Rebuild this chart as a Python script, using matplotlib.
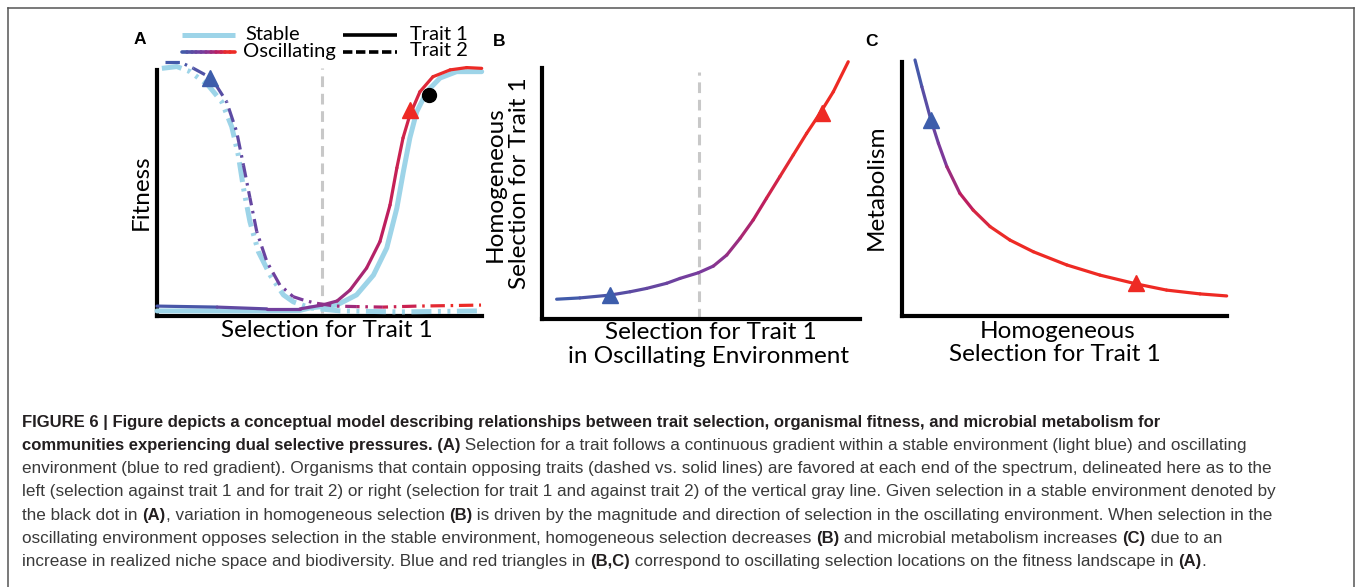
#!/usr/bin/env python3
# -*- coding: utf-8 -*-
"""
plot.py
Conceptual model figure: fitness landscape (A), homogeneous selection vs.
oscillating selection (B) and metabolism vs. homogeneous selection (C),
with the figure caption underneath. Saves out.png.
"""

import numpy as np
import matplotlib
matplotlib.use("Agg")
import matplotlib.pyplot as plt
from matplotlib.collections import LineCollection
from matplotlib.colors import LinearSegmentedColormap


# =====================================================
# 1. Data (axes scaled 0-100)
# =====================================================

# panel A - fitness vs. selection for trait 1
a_stable_t1_x = [0, 28.6, 44.0, 47.1, 55.3, 61.4, 66.6, 70.7, 73.8, 75.8, 77.8, 79.9, 83.0, 87.1, 92.2, 99.9]
a_stable_t1_y = [2.0, 2.0, 2.2, 3.2, 4.3, 8.3, 16.1, 26.8, 42.5, 56.8, 70.1, 80.4, 88.3, 93.7, 96.2, 96.2]

a_osc_t1_x = [0, 18.5, 33.8, 44.0, 50.8, 55.4, 59.4, 64.5, 68.6, 71.7, 73.8, 75.7, 77.8, 80.9, 84.9, 90.2, 95.3, 99.9]
a_osc_t1_y = [3.9, 3.5, 2.8, 2.8, 4.3, 5.9, 10.2, 18.9, 29.3, 43.7, 58.3, 70.1, 79.1, 88.3, 94.2, 96.9, 97.8, 97.5]

a_stable_t2_x = [1.5, 6.1, 10.2, 15.7, 19.9, 23.0, 25.0, 26.6, 28.6, 31.2, 34.8, 38.9, 41.9, 47.1, 56.3, 74.8, 99.7]
a_stable_t2_y = [97.5, 98.2, 96.2, 90.9, 84.4, 74.5, 63.4, 50.4, 37.1, 25.3, 16.1, 8.3, 5.6, 3.2, 2.0, 1.6, 2.0]

a_osc_t2_x = [2.5, 7.1, 11.2, 16.8, 21.4, 24.5, 26.6, 28.6, 30.7, 33.8, 37.8, 41.9, 45.0, 48.6, 54.8, 61.5, 69.5, 80.0, 90.2, 99.7]
a_osc_t2_y = [100, 100, 97.5, 93.6, 84.4, 72.6, 59.4, 46.5, 33.2, 21.4, 12.2, 7.6, 6.3, 5.1, 3.9, 3.7, 3.5, 3.9, 4.1, 4.3]

a_divider_x = 50.8
a_blue_tri = (16.3, 93.7)
a_red_tri = (77.8, 81.1)
a_stable_dot = (83.7, 87.0)

# panel B - homogeneous selection vs. oscillating selection
b_x = [4.6, 11.9, 21.4, 27.7, 32.9, 39.2, 43.4, 49.2, 53.9, 58.1, 62.3, 66.4, 70.6, 74.8, 79.0, 83.2, 87.4, 91.6, 96.3]
b_y = [7.7, 8.2, 9.3, 10.6, 11.9, 13.9, 15.8, 18.0, 20.6, 24.9, 31.4, 38.5, 47.0, 55.4, 63.8, 72.2, 80.0, 88.4, 100.1]
b_divider_x = 49.4
b_blue_tri = (21.4, 9.3)
b_red_tri = (88.1, 80.2)

# panel C - metabolism vs. homogeneous selection
c_x = [4.0, 6.1, 8.9, 11.2, 13.8, 17.8, 21.9, 27.1, 33.2, 40.4, 50.7, 60.9, 72.2, 81.4, 91.7, 99.9]
c_y = [100.8, 90.3, 77.2, 68.0, 58.8, 48.3, 41.7, 35.2, 29.9, 25.3, 20.1, 16.1, 12.6, 10.2, 8.7, 7.9]
c_blue_tri = (8.9, 77.2)
c_red_tri = (72.0, 13.0)

# caption: each line is a list of (text, bold)
caption_lines = [
    [("FIGURE 6 | Figure depicts a conceptual model describing relationships between trait selection, "
      "organismal fitness, and microbial metabolism for", True)],
    [("communities experiencing dual selective pressures. (A)", True),
     (" Selection for a trait follows a continuous gradient within a stable environment (light blue) and oscillating", False)],
    [("environment (blue to red gradient). Organisms that contain opposing traits (dashed vs. solid lines) "
      "are favored at each end of the spectrum, delineated here as to the", False)],
    [("left (selection against trait 1 and for trait 2) or right (selection for trait 1 and against trait 2) "
      "of the vertical gray line. Given selection in a stable environment denoted by", False)],
    [("the black dot in ", False), ("(A)", True), (", variation in homogeneous selection ", False), ("(B)", True),
     (" is driven by the magnitude and direction of selection in the oscillating environment. When selection in the", False)],
    [("oscillating environment opposes selection in the stable environment, homogeneous selection decreases ", False),
     ("(B)", True), (" and microbial metabolism increases ", False), ("(C)", True), (" due to an", False)],
    [("increase in realized niche space and biodiversity. Blue and red triangles in ", False), ("(B,C)", True),
     (" correspond to oscillating selection locations on the fitness landscape in ", False), ("(A)", True), (".", False)],
]


# =====================================================
# 2. Style
# =====================================================

W, H, DPI = 1357, 587, 100
LIGHT_BLUE = "#9DD4E8"
BLUE = "#3D5DAB"
RED = "#EE2A24"
GRAY = "#C8C8C8"
PANEL_FONT = ["Lato", "DejaVu Sans"]
CAP_FONT = ["Liberation Sans Narrow", "Liberation Sans", "DejaVu Sans"]
LABEL_SIZE = 17.5

CMAP = LinearSegmentedColormap.from_list("osc", [
    (0.0, BLUE),
    (0.45, "#7B3A9B"),
    (0.70, "#BE1E5F"),
    (0.88, "#EA2C2A"),
    (1.0, RED),
])

DASH_DOT = (4.5, 1.8, 0.8, 1.8)
DASH_DOT_DOT = (4.0, 1.3, 0.6, 1.3, 0.6, 1.3)


# =====================================================
# 3. Helpers
# =====================================================

def px_axes(fig, left, top, right, bottom, **kw):
    return fig.add_axes([left / W, 1 - bottom / H, (right - left) / W, (bottom - top) / H], **kw)

def setup_panel(ax, ytop=100):
    ax.set_xlim(0, 100)
    ax.set_ylim(0, 100)
    ax.patch.set_alpha(0)
    for s in ("top", "right"):
        ax.spines[s].set_visible(False)
    for s in ("left", "bottom"):
        ax.spines[s].set_linewidth(3)
        ax.spines[s].set_color("black")
    ax.spines["left"].set_bounds(0, ytop)
    ax.set_xticks([])
    ax.set_yticks([])

def arc_param(ax, x, y):
    pts = ax.transData.transform(np.column_stack([x, y]))
    seg = np.hypot(*np.diff(pts, axis=0).T)
    return np.concatenate([[0], np.cumsum(seg)])

def gradient_line(ax, x, y, t, lw, dashes=None, zorder=5):
    x, y = np.asarray(x, float), np.asarray(y, float)
    pts = np.column_stack([x, y])
    segs = np.stack([pts[:-1], pts[1:]], axis=1)
    tm = 0.5 * (np.asarray(t[:-1]) + np.asarray(t[1:]))
    colors = CMAP(np.clip(tm, 0, 1))
    if dashes is None:
        lc = LineCollection(segs, colors=colors, linewidths=lw, capstyle="round",
                            joinstyle="round", zorder=zorder, clip_on=False)
    else:
        # keep the dash pattern continuous across segments
        cum_pts = arc_param(ax, x, y) * 72.0 / DPI
        styles = [(c / lw, dashes) for c in cum_pts[:-1]]
        lc = LineCollection(segs, colors=colors, linewidths=lw, linestyles=styles,
                            capstyle="butt", zorder=zorder, clip_on=False)
    ax.add_collection(lc)

def triangle(ax, pos, color, ms=12):
    ax.plot(*pos, marker="^", ms=ms, color=color, mec=color, zorder=10, clip_on=False)

def text_width(over, renderer, s, **kw):
    t1 = over.text(0, 0, "|" + s + "|", **kw)
    t2 = over.text(0, 0, "||", **kw)
    w = t1.get_window_extent(renderer).width - t2.get_window_extent(renderer).width
    t1.remove()
    t2.remove()
    return w


# =====================================================
# 4. Panels
# =====================================================

def draw_panel_a(fig, over):
    ax = px_axes(fig, 157, 62, 482, 316)
    setup_panel(ax, ytop=96.9)
    ax.plot([a_divider_x, a_divider_x], [1.2, 97.6], color=GRAY, lw=2.2,
            ls=(0, (3.5, 2.2)), zorder=2)

    ax.plot(a_stable_t1_x, a_stable_t1_y, color=LIGHT_BLUE, lw=3.6, zorder=3,
            solid_capstyle="round", solid_joinstyle="round", clip_on=False)
    ax.plot(a_stable_t2_x, a_stable_t2_y, color=LIGHT_BLUE, lw=3.6, zorder=3,
            ls=(0, DASH_DOT_DOT), clip_on=False)

    gradient_line(ax, a_osc_t1_x, a_osc_t1_y, np.array(a_osc_t1_x) / 100, lw=2.3)
    gradient_line(ax, a_osc_t2_x, a_osc_t2_y, np.array(a_osc_t2_x) / 100, lw=2.3,
                  dashes=DASH_DOT)

    triangle(ax, a_blue_tri, BLUE)
    triangle(ax, a_red_tri, RED)
    ax.plot(*a_stable_dot, marker="o", ms=10, color="black", zorder=11, clip_on=False)

    # legend
    over.plot([182, 235], [35, 35], color=LIGHT_BLUE, lw=3.6, solid_capstyle="butt")
    lx = np.linspace(182, 235, 12)
    gradient_line(over, lx, np.full_like(lx, 52.0), np.linspace(0, 1, 12), lw=2.6)
    over.plot([343, 397], [35, 35], color="black", lw=2.6, solid_capstyle="butt")
    over.plot([343, 397], [52, 52], color="black", lw=2.6, ls=(0, (2.6, 1.0)),
              dash_capstyle="butt")
    kw = dict(fontfamily=PANEL_FONT, fontsize=14.5, va="center", ha="left", color="black")
    over.text(245, 34, "Stable", **kw)
    over.text(243, 51, "Oscillating", **kw)
    over.text(410, 34, "Trait 1", **kw)
    over.text(410, 51, "Trait 2", **kw)

    over.text(141, 192, "Fitness", rotation=90, fontfamily=PANEL_FONT, fontsize=LABEL_SIZE,
              ha="center", va="center")
    over.text(327, 337, "Selection for Trait 1", fontfamily=PANEL_FONT, fontsize=LABEL_SIZE,
              ha="center", va="baseline")

def draw_panel_b(fig, over):
    ax = px_axes(fig, 542, 62, 860, 319)
    setup_panel(ax, ytop=97.5)
    ax.plot([b_divider_x, b_divider_x], [0, 96.1], color=GRAY, lw=2.2,
            ls=(0, (3.5, 2.2)), zorder=2)
    cum = arc_param(ax, b_x, b_y)
    gradient_line(ax, b_x, b_y, 1.2 * cum / cum[-1], lw=2.3)
    triangle(ax, b_blue_tri, BLUE)
    triangle(ax, b_red_tri, RED)

    kw = dict(fontfamily=PANEL_FONT, fontsize=LABEL_SIZE, rotation=90, ha="center", va="center")
    over.text(495, 184, "Homogeneous", **kw)
    over.text(519, 183, "Selection for Trait 1", **kw)
    kw = dict(fontfamily=PANEL_FONT, fontsize=LABEL_SIZE, ha="center", va="baseline")
    over.text(711, 339, "Selection for Trait 1", **kw)
    over.text(709, 363, "in Oscillating Environment", **kw)

def draw_panel_c(fig, over):
    ax = px_axes(fig, 902, 62, 1227, 316)
    setup_panel(ax, ytop=100)
    cum = arc_param(ax, c_x, c_y)
    gradient_line(ax, c_x, c_y, 2.0 * cum / cum[-1], lw=2.3)
    triangle(ax, c_blue_tri, BLUE)
    triangle(ax, c_red_tri, RED)

    over.text(876, 187, "Metabolism", rotation=90, fontfamily=PANEL_FONT, fontsize=LABEL_SIZE,
              ha="center", va="center")
    kw = dict(fontfamily=PANEL_FONT, fontsize=LABEL_SIZE, ha="center", va="baseline")
    over.text(1058, 338, "Homogeneous", **kw)
    over.text(1055, 361, "Selection for Trait 1", **kw)


# =====================================================
# 5. Caption and frame
# =====================================================

def draw_caption(fig, over):
    renderer = fig.canvas.get_renderer()
    y0, dy = 422, 23.3
    for i, parts in enumerate(caption_lines):
        x = 22
        y = y0 + i * dy
        for txt, bold in parts:
            kw = dict(fontfamily=CAP_FONT, fontsize=12.0 if bold else 12.35,
                      fontweight="bold" if bold else "normal",
                      color="#231F20" if bold else "#3A3A3A")
            over.text(x, y, txt, ha="left", va="center", **kw)
            x += text_width(over, renderer, txt, **kw)

def draw_frame(over):
    c = "#555555"
    over.plot([8, 8], [8, 590], color=c, lw=1.1, clip_on=False)
    over.plot([8, 1354], [8, 8], color=c, lw=1.1, clip_on=False)
    over.plot([1354, 1354], [8, 590], color=c, lw=1.1, clip_on=False)


# =====================================================
# 6. Main
# =====================================================

def main():
    fig = plt.figure(figsize=(W / DPI, H / DPI), dpi=DPI)
    fig.patch.set_facecolor("white")

    over = fig.add_axes([0, 0, 1, 1], zorder=0)
    over.set_xlim(0, W)
    over.set_ylim(H, 0)
    over.axis("off")

    draw_frame(over)
    draw_panel_a(fig, over)
    draw_panel_b(fig, over)
    draw_panel_c(fig, over)

    kw = dict(fontfamily=["Liberation Sans", "DejaVu Sans"], fontsize=12.5,
              fontweight="bold", ha="center", va="center")
    over.text(140, 40, "A", **kw)
    over.text(499, 41, "B", **kw)
    over.text(872, 41, "C", **kw)

    draw_caption(fig, over)

    fig.savefig("out.png", dpi=DPI)
    plt.close(fig)


if __name__ == "__main__":
    main()
